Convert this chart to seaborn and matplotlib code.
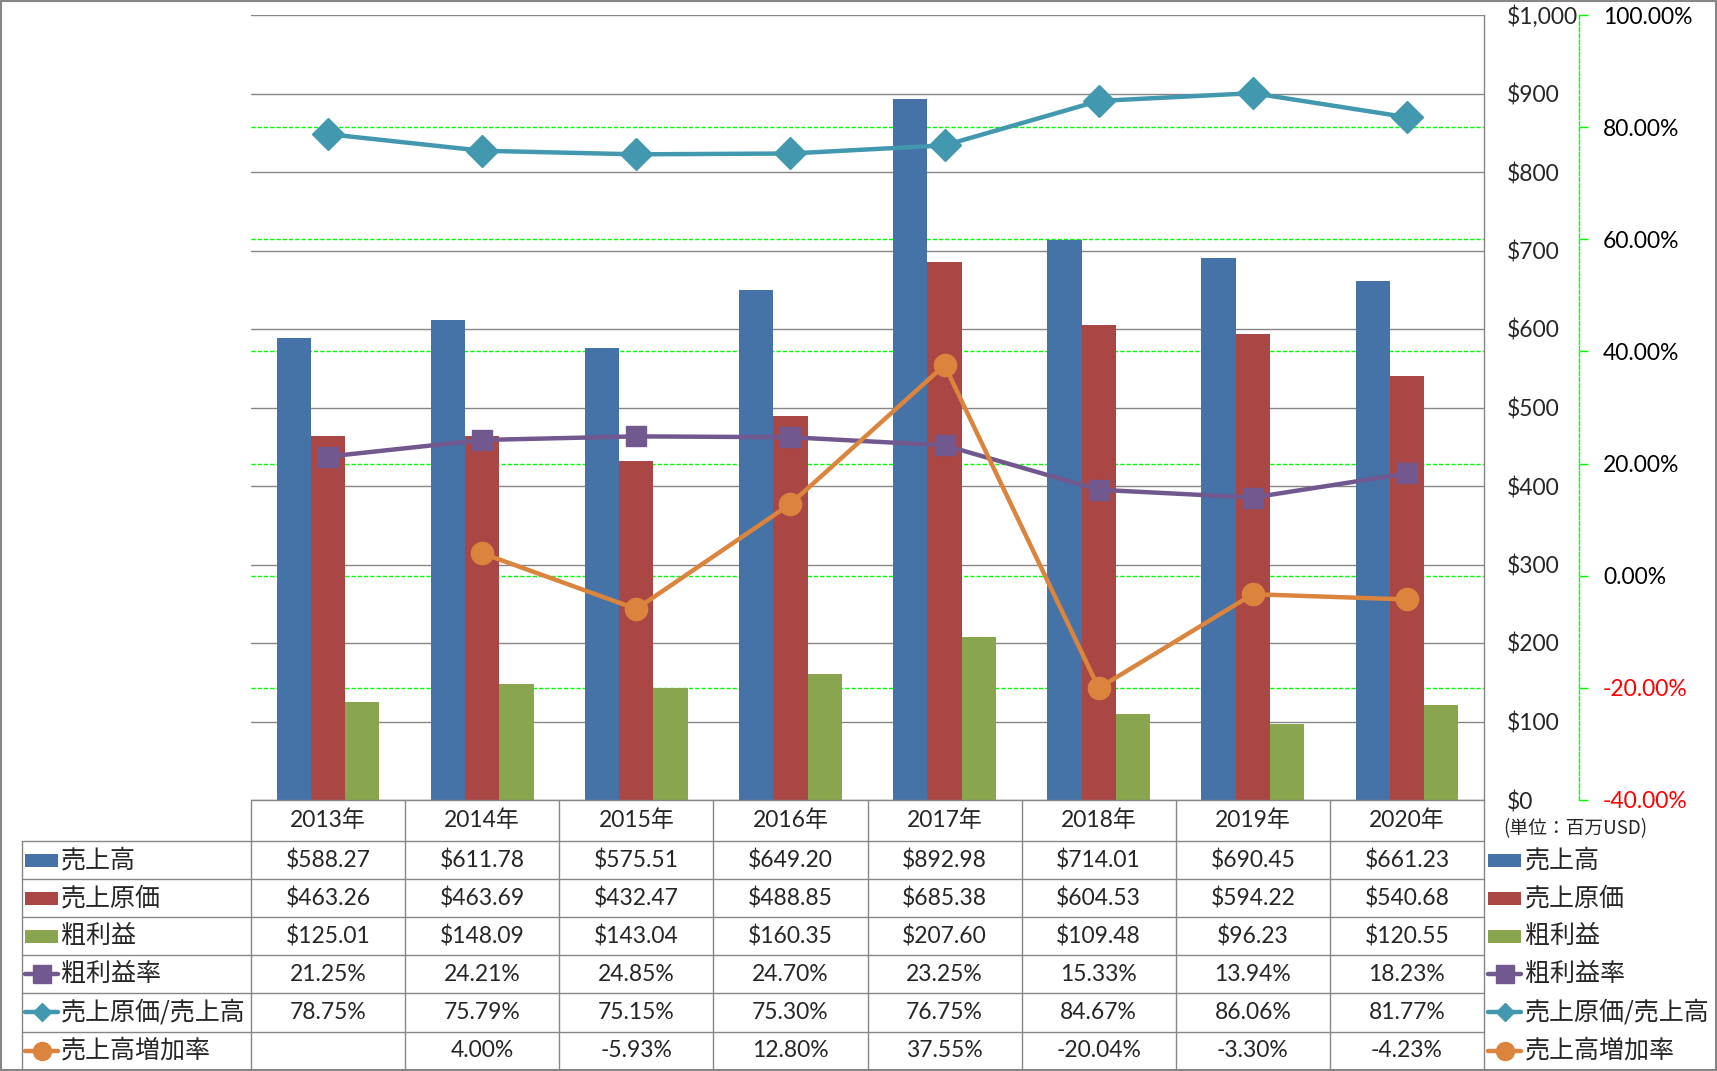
import numpy as np
import pandas as pd
import seaborn as sns
import matplotlib.pyplot as plt
from matplotlib.patches import Rectangle
from matplotlib.lines import Line2D
import matplotlib.ticker as mticker

# data
years = ['2013年', '2014年', '2015年', '2016年', '2017年', '2018年', '2019年', '2020年']
sales = [588.27, 611.78, 575.51, 649.20, 892.98, 714.01, 690.45, 661.23]
cogs = [463.26, 463.69, 432.47, 488.85, 685.38, 604.53, 594.22, 540.68]
gross = [125.01, 148.09, 143.04, 160.35, 207.60, 109.48, 96.23, 120.55]
gm_rate = [21.25, 24.21, 24.85, 24.70, 23.25, 15.33, 13.94, 18.23]
cogs_ratio = [78.75, 75.79, 75.15, 75.30, 76.75, 84.67, 86.06, 81.77]
growth = [np.nan, 4.00, -5.93, 12.80, 37.55, -20.04, -3.30, -4.23]

bar_names = ['売上高', '売上原価', '粗利益']
line_names = ['粗利益率', '売上原価/売上高', '売上高増加率']
bar_colors = ['#4572A7', '#AA4643', '#89A54E']
line_colors = ['#71588F', '#4198AF', '#DB843D']
line_markers = ['s', 'D', 'o']
line_ms = [15, 16, 16]
key_ms = [13, 9.5, 13]

sns.set_style('white')
plt.rcParams['font.family'] = ['Lato', 'Noto Sans CJK JP', 'DejaVu Sans']

W, H, DPI = 1717, 1071, 100
fig = plt.figure(figsize=(W / DPI, H / DPI), dpi=DPI)

# layout in pixels
L, R, T, B = 251, 1484, 15, 800
ROW0, ROWH = 841, 38.1
GRAY = '#868686'
LIME = '#00FF00'
FS = 16.5
FS_JP = 18


def frac(x0, y0, x1, y1):
    return [x0 / W, 1 - y1 / H, (x1 - x0) / W, (y1 - y0) / H]


# green dashed grid of the secondary axis, behind the bars
ax_grid = fig.add_axes(frac(L, T, R, B))
ax_grid.set_zorder(0)
ax_grid.set_ylim(-40, 100)
ax_grid.set_yticks(np.arange(-20, 81, 20))
ax_grid.grid(axis='y', color=LIME, lw=1, linestyle=(0, (3, 1.5)))
ax_grid.tick_params(left=False, labelleft=False, bottom=False, labelbottom=False)
for s in ax_grid.spines.values():
    s.set_visible(False)

# bars
ax = fig.add_axes(frac(L, T, R, B))
ax.set_zorder(1)
ax.patch.set_visible(False)
df = pd.DataFrame({
    '年': years * 3,
    '系列': np.repeat(bar_names, len(years)),
    '金額': sales + cogs + gross,
})
sns.barplot(data=df, x='年', y='金額', hue='系列', order=years, hue_order=bar_names,
            palette=bar_colors, saturation=1, width=3 / 4.5, gap=0, errorbar=None,
            legend=False, linewidth=0, ax=ax)

# lines on the secondary axis
ax2 = ax.twinx()
ax2.set_zorder(2)
ax2.patch.set_visible(False)
xpos = np.arange(len(years))
for vals, c, m, ms in zip([gm_rate, cogs_ratio, growth], line_colors, line_markers, line_ms):
    ax2.plot(xpos, vals, color=c, lw=3.2, marker=m, ms=ms, mfc=c, mec=c)

# primary axis (right side, next to plot)
ax.set_xlim(-0.5, len(years) - 0.5)
ax.set_ylim(0, 1000)
ax.set_yticks(np.arange(0, 1001, 100))
ax.yaxis.set_major_formatter(mticker.FuncFormatter(lambda v, p: f'${v:,.0f}'))
ax.yaxis.tick_right()
ax.tick_params(axis='y', left=False, labelleft=False, right=False, labelright=True,
               length=0, pad=16.6, labelsize=FS)
ax.tick_params(axis='x', bottom=False, labelbottom=False)
ax.set_xlabel('')
ax.set_ylabel('')
ax.grid(axis='y', color=GRAY, lw=1)
ax.set_axisbelow(True)
for k, s in ax.spines.items():
    s.set_visible(k == 'right')
ax.spines['right'].set_color(GRAY)
ax.spines['right'].set_linewidth(1)

# secondary axis
ax2.set_xlim(-0.5, len(years) - 0.5)
ax2.set_ylim(-40, 100)
for k, s in ax2.spines.items():
    s.set_visible(k == 'right')
ax2.spines['right'].set_position(('outward', 68.4))
ax2.spines['right'].set_color(LIME)
ax2.spines['right'].set_linestyle((0, (3, 1.5)))
ax2.spines['right'].set_linewidth(1)
pticks = np.arange(-40, 101, 20)
ax2.set_yticks(pticks, labels=[f'{v:.2f}%' for v in pticks])
ax2.tick_params(axis='y', direction='out', length=6.5, width=1, color=LIME,
                pad=10.8, labelsize=FS)
for v, tick in zip(pticks, ax2.yaxis.get_major_ticks()):
    tick.label2.set_color('#FF0000' if v < 0 else 'black')

# data table and legends
axt = fig.add_axes([0, 0, 1, 1])
axt.set_zorder(3)
axt.patch.set_visible(False)
axt.set_xlim(0, W)
axt.set_ylim(H, 0)
axt.axis('off')

n = len(years)
cw = (R - L) / n
bottom = ROW0 + ROWH * 6
for k in range(n + 1):
    axt.plot([L + k * cw] * 2, [B, bottom], color=GRAY, lw=1)
axt.plot([22, 22], [ROW0, bottom], color=GRAY, lw=1)
axt.plot([L, R], [B, B], color=GRAY, lw=1)
for i in range(7):
    axt.plot([22, R], [ROW0 + i * ROWH] * 2, color=GRAY, lw=1)

for k, y in enumerate(years):
    axt.text(L + (k + 0.5) * cw, (B + ROW0) / 2, y, ha='center', va='center', fontsize=FS)

rows = [
    [f'${v:.2f}' for v in sales],
    [f'${v:.2f}' for v in cogs],
    [f'${v:.2f}' for v in gross],
    [f'{v:.2f}%' for v in gm_rate],
    [f'{v:.2f}%' for v in cogs_ratio],
    ['' if np.isnan(v) else f'{v:.2f}%' for v in growth],
]
for i, row in enumerate(rows):
    yc = ROW0 + (i + 0.5) * ROWH
    for k, txt in enumerate(row):
        axt.text(L + (k + 0.5) * cw, yc, txt, ha='center', va='center', fontsize=FS)

names = bar_names + line_names


def legend_key(x0, yc, i):
    if i < 3:
        axt.add_patch(Rectangle((x0, yc - 6.5), 33, 13, color=bar_colors[i], lw=0))
    else:
        j = i - 3
        axt.add_line(Line2D([x0, x0 + 33], [yc, yc], color=line_colors[j], lw=3.2))
        axt.add_line(Line2D([x0 + 16.5], [yc], color=line_colors[j], marker=line_markers[j],
                            ms=key_ms[j], mfc=line_colors[j], mec=line_colors[j]))


for i, name in enumerate(names):
    yc = ROW0 + (i + 0.5) * ROWH
    legend_key(25, yc, i)
    axt.text(61, yc, name, ha='left', va='center', fontsize=FS_JP, family='Noto Sans CJK JP')
    legend_key(1488, yc, i)
    axt.text(1525, yc, name, ha='left', va='center', fontsize=FS_JP, family='Noto Sans CJK JP')

axt.text(1503, 829, '(単位：百万USD)', ha='left', va='center', fontsize=13.5,
         family='Noto Sans CJK JP')

axt.add_patch(Rectangle((1, 0.5), W - 2, H - 1.5, fill=False, ec=GRAY, lw=1.5))

fig.savefig('out.png', dpi=DPI)
